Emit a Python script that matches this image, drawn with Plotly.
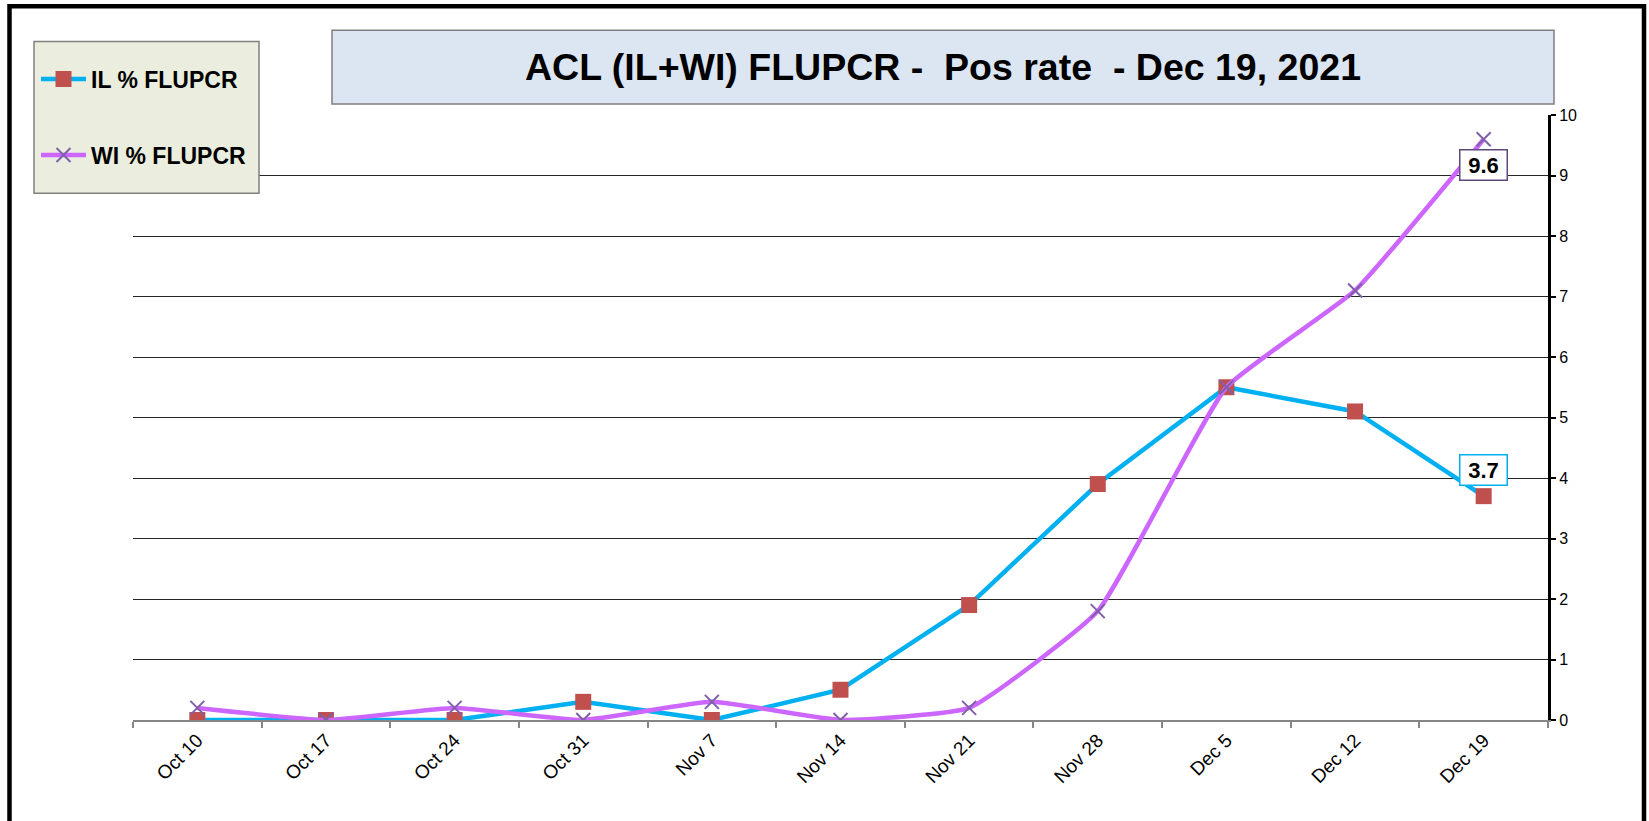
import plotly.graph_objects as go

# ---- data ----
weeks = ["Oct 10", "Oct 17", "Oct 24", "Oct 31", "Nov 7", "Nov 14",
         "Nov 21", "Nov 28", "Dec 5", "Dec 12", "Dec 19"]
il_pct = [0, 0, 0, 0.3, 0, 0.5, 1.9, 3.9, 5.5, 5.1, 3.7]
wi_pct = [0.2, 0, 0.2, 0, 0.3, 0, 0.2, 1.8, 5.5, 7.1, 9.6]
y_ticks = [0, 1, 2, 3, 4, 5, 6, 7, 8, 9, 10]
title_text = "ACL (IL+WI) FLUPCR -&nbsp; Pos rate&nbsp; - Dec 19, 2021"

W, H = 1649, 821
PL, PR, PT, PB = 133, 1548, 114.5, 720.5


def px(x):
    return (x - PL) / (PR - PL)


def py(y):
    return (PB - y) / (PB - PT)


FONT = "Arial, Liberation Sans, sans-serif"

fig = go.Figure()
fig.add_trace(go.Scatter(
    x=weeks, y=il_pct, name="IL % FLUPCR", mode="lines+markers",
    legendgroup="il",
    line=dict(color="#00B0F0", width=4.5),
    marker=dict(symbol="square", size=16, color="#C0504D", line=dict(width=0)),
))
fig.add_trace(go.Scatter(
    x=weeks, y=wi_pct, name="WI % FLUPCR", mode="lines+markers",
    legendgroup="wi",
    line=dict(color="#CC66FF", width=4.5, shape="spline", smoothing=0.4),
    marker=dict(symbol="x-thin", size=14, color="#7F60A8",
                line=dict(width=2, color="#7F60A8")),
))

shapes = [
    # outer frame
    dict(type="rect", xref="paper", yref="paper",
         x0=px(9.5), x1=px(1644), y0=py(835), y1=py(5.5),
         line=dict(color="black", width=4.5), fillcolor="rgba(0,0,0,0)",
         layer="above"),
    # title box
    dict(type="rect", xref="paper", yref="paper",
         x0=px(332), x1=px(1554), y0=py(103.5), y1=py(29.5),
         line=dict(color="#7F7F7F", width=1.5), fillcolor="#DCE6F2",
         layer="below"),
    # legend box
    dict(type="rect", xref="paper", yref="paper",
         x0=px(34), x1=px(259), y0=py(193), y1=py(41),
         line=dict(color="#808080", width=1.5), fillcolor="#EBEEDE",
         layer="above"),
]

annotations = [
    dict(x=len(weeks) - 1, y=wi_pct[-1], xref="x", yref="y",
         text=f"<b>{wi_pct[-1]}</b>", showarrow=False, yshift=-26,
         font=dict(family=FONT, size=22, color="black"),
         bordercolor="#5F497A", borderwidth=1.5, bgcolor="white",
         width=44, height=27, borderpad=1),
    dict(x=len(weeks) - 1, y=il_pct[-1], xref="x", yref="y",
         text=f"<b>{il_pct[-1]}</b>", showarrow=False, yshift=26,
         font=dict(family=FONT, size=22, color="black"),
         bordercolor="#00B0F0", borderwidth=1.5, bgcolor="white",
         width=44, height=27, borderpad=1),
]

fig.update_layout(
    width=W, height=H,
    margin=dict(l=PL, r=W - PR, t=PT, b=H - PB, pad=0),
    paper_bgcolor="white", plot_bgcolor="white",
    font=dict(family=FONT, color="black"),
    title=dict(text=title_text, x=943 / W, xanchor="center",
               y=1 - 66.5 / H, yanchor="middle", xref="container", yref="container",
               font=dict(family=FONT, size=37.5, color="black", weight="bold")),
    showlegend=True,
    legend=dict(x=px(36), y=py(57), xanchor="left", yanchor="top",
                bgcolor="rgba(0,0,0,0)", borderwidth=0, itemwidth=45,
                font=dict(family=FONT, size=23, color="black", weight="bold"),
                tracegroupgap=43),
    xaxis=dict(type="category", range=[-0.5, len(weeks) - 0.5],
               showgrid=False, zeroline=False,
               showline=True, linecolor="#868686", linewidth=1.5,
               ticks="outside", tickson="boundaries", ticklen=6,
               tickcolor="#868686", tickwidth=1.5,
               tickangle=-45, tickfont=dict(family=FONT, size=19, color="black")),
    yaxis=dict(side="right", range=[0, 10], tickvals=y_ticks,
               showgrid=True, gridcolor="#262626", gridwidth=1,
               zeroline=False,
               showline=True, linecolor="black", linewidth=3,
               ticks="outside", ticklen=5, tickcolor="black", tickwidth=2,
               tickfont=dict(family=FONT, size=16, color="black")),
    shapes=shapes,
    annotations=annotations,
)

fig.write_html("out.html", config={"displayModeBar": False},
               post_script="document.body.style.margin='0';document.body.style.overflow='hidden';")
